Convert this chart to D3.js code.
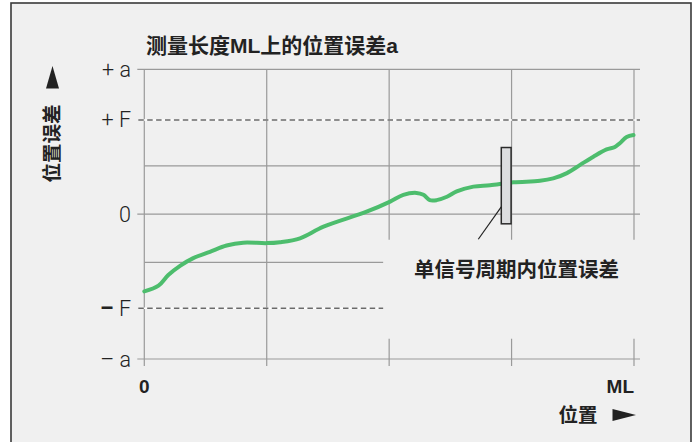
<!DOCTYPE html>
<html>
<head>
<meta charset="utf-8">
<script src="https://cdn.jsdelivr.net/npm/d3@7"></script>
<style>
  html, body { margin: 0; padding: 0; background: #ffffff; }
  svg { display: block; }
</style>
</head>
<body>
<svg id="chart" width="699" height="442"></svg>
<script>
// Position along the measuring length ML, in percent of ML
const positions = [0, 2.9, 4.9, 7.3, 10.0, 13.4, 16.8, 20.2, 25.0, 27.7, 31.8, 36.6,
  45.4, 50.2, 52.9, 55.6, 57.0, 58.3, 59.7, 61.8, 63.8, 67.2, 70.6, 75.4, 80.8, 83.5,
  86.3, 89.0, 91.7, 94.4, 96.1, 97.1, 98.5, 99.9];
// Position error at each position, in units of a/3
const errors = [-1.60, -1.48, -1.26, -1.07, -0.91, -0.78, -0.65, -0.59, -0.60, -0.58, -0.50, -0.26,
  0.05, 0.26, 0.40, 0.44, 0.40, 0.29, 0.29, 0.36, 0.47, 0.57, 0.60, 0.66, 0.69, 0.74,
  0.85, 1.02, 1.19, 1.34, 1.39, 1.47, 1.60, 1.64];

// Error-axis marks: +a, +F, 0, -F, -a
const yTickValues = [3, 1.95, 0, -1.95, -3];
const yTickSigns = ["+", "+", "", "–", "–"];
const yTickNames = ["a", "F", "0", "F", "a"];
const yGridValues = [1, -1];
const xGridValues = [0, 25, 50, 75, 100];
const xTickLabels = ["0", "ML"];
const xTickValues = [0, 100];

// Position error within one signal period
const periodX = 73.9, periodHalfWidth = 1.0, periodTop = 1.38, periodBottom = -0.20;

const titleText = "测量长度ML上的位置误差a";
const yAxisTitle = "位置误差";
const xAxisTitle = "位置";
const periodLabel = "单信号周期内位置误差";

const svg = d3.select("#chart");
const BG = "#f0f0f0", GRID = "#9a9a9a", INK = "#222222";
const latin = "'Liberation Sans', Arial, 'Noto Sans CJK SC', sans-serif";
const light = "Roboto, 'Liberation Sans', sans-serif";

const x = d3.scaleLinear().domain([0, 100]).range([144.3, 634]);
const y = d3.scaleLinear().domain([-3, 3]).range([359, 69.3]);

// panel frame
svg.append("rect").attr("x", 11).attr("y", 3).attr("width", 680).attr("height", 460)
  .attr("fill", BG).attr("stroke", "#3a3a3a").attr("stroke-width", 1.6);

const g = svg.append("g");
const xLeft = x(0) - 7, xRight = x(100) + 6;

// vertical grid lines (with tick below the axis)
g.selectAll("line.vgrid").data(xGridValues).join("line")
  .attr("class", "vgrid")
  .attr("x1", d => x(d)).attr("x2", d => x(d))
  .attr("y1", y(3)).attr("y2", y(-3) + 7)
  .attr("stroke", GRID).attr("stroke-width", 1.2);

// solid horizontal lines: +a, grid, 0, grid, -a
g.selectAll("line.hgrid").data([3, yGridValues[0], 0, yGridValues[1], -3]).join("line")
  .attr("class", "hgrid")
  .attr("x1", d => yGridValues.includes(d) ? x(0) : xLeft)
  .attr("x2", xRight)
  .attr("y1", d => y(d)).attr("y2", d => y(d))
  .attr("stroke", GRID).attr("stroke-width", 1.2);

// tolerance band lines ±F (dashed over white)
const fVals = yTickValues.filter((v, i) => yTickNames[i] === "F");
g.selectAll("line.fwhite").data(fVals).join("line")
  .attr("x1", xLeft + 1).attr("x2", xRight)
  .attr("y1", d => y(d)).attr("y2", d => y(d))
  .attr("stroke", "#ffffff").attr("stroke-width", 1.4);
g.selectAll("line.fdash").data(fVals).join("line")
  .attr("x1", xLeft + 1).attr("x2", xRight)
  .attr("y1", d => y(d)).attr("y2", d => y(d))
  .attr("stroke", "#6a6a6a").attr("stroke-width", 1.4)
  .attr("stroke-dasharray", "5.5,3.4");

// clear space for the period-error label
g.append("rect")
  .attr("x", x(50) - 6).attr("y", y(-0.53))
  .attr("width", xRight - x(50) + 10).attr("height", y(-2.58) - y(-0.53))
  .attr("fill", BG);

// error curve
const pts = positions.map((p, i) => [p, errors[i]]);
g.append("path").datum(pts)
  .attr("fill", "none")
  .attr("stroke", "#4dbd6d")
  .attr("stroke-width", 4)
  .attr("stroke-linecap", "round")
  .attr("d", d3.line().x(d => x(d[0])).y(d => y(d[1])).curve(d3.curveCatmullRom.alpha(0.5)));

// period error bar
const bx0 = x(periodX - periodHalfWidth), bx1 = x(periodX + periodHalfWidth);
g.append("rect")
  .attr("x", bx0).attr("y", y(periodTop))
  .attr("width", bx1 - bx0).attr("height", y(periodBottom) - y(periodTop))
  .attr("fill", "#dcdddf").attr("stroke", "#2a2a2a").attr("stroke-width", 1.5);

// leader line to the label
g.append("line")
  .attr("x1", bx0).attr("y1", y(0.15))
  .attr("x2", x(68.2)).attr("y2", y(-0.52))
  .attr("stroke", INK).attr("stroke-width", 1.2);

g.append("text")
  .attr("x", x(76)).attr("y", 277)
  .attr("text-anchor", "middle")
  .attr("font-family", "'Noto Sans CJK SC', sans-serif")
  .attr("font-weight", 700).attr("font-size", 20.5).attr("fill", INK)
  .text(periodLabel);

// error-axis labels
const yLab = g.selectAll("text.ylab").data(yTickValues).join("text")
  .attr("class", "ylab")
  .attr("x", 131).attr("y", d => y(d) + 7.5)
  .attr("text-anchor", "end")
  .attr("font-family", light).attr("font-weight", 300)
  .attr("font-size", 21.5).attr("fill", INK);
yLab.each(function(d, i) {
  const t = d3.select(this);
  if (yTickSigns[i]) {
    t.append("tspan")
      .attr("font-weight", (yTickSigns[i] === "–" && yTickNames[i] === "F") ? 700 : 300)
      .text(yTickSigns[i] + " ");
  }
  t.append("tspan").text(yTickNames[i]);
});

// position-axis labels
g.selectAll("text.xlab").data(xTickValues).join("text")
  .attr("class", "xlab")
  .attr("x", d => x(d)).attr("y", 393)
  .attr("text-anchor", (d, i) => i === 0 ? "middle" : "end")
  .attr("font-family", latin).attr("font-weight", 700)
  .attr("font-size", 19).attr("fill", INK)
  .text((d, i) => xTickLabels[i]);

// title
svg.append("text")
  .attr("x", 146).attr("y", 53)
  .attr("font-family", latin).attr("font-weight", 700)
  .attr("font-size", 21).attr("fill", INK)
  .text(titleText);

// vertical axis title with arrow
svg.append("text")
  .attr("transform", "translate(58.5,143.5) rotate(-90)")
  .attr("text-anchor", "middle")
  .attr("font-family", "'Noto Sans CJK SC', sans-serif")
  .attr("font-weight", 700).attr("font-size", 19.5).attr("fill", INK)
  .text(yAxisTitle);
svg.append("path")
  .attr("d", "M52.5,66 L59,88.5 L46,88.5 Z")
  .attr("fill", INK);

// horizontal axis title with arrow
svg.append("text")
  .attr("x", 597.5).attr("y", 422)
  .attr("text-anchor", "end")
  .attr("font-family", "'Noto Sans CJK SC', sans-serif")
  .attr("font-weight", 700).attr("font-size", 19.5).attr("fill", INK)
  .text(xAxisTitle);
svg.append("path")
  .attr("d", "M612.5,409 L636,415 L612.5,421 Z")
  .attr("fill", INK);
</script>
</body>
</html>
